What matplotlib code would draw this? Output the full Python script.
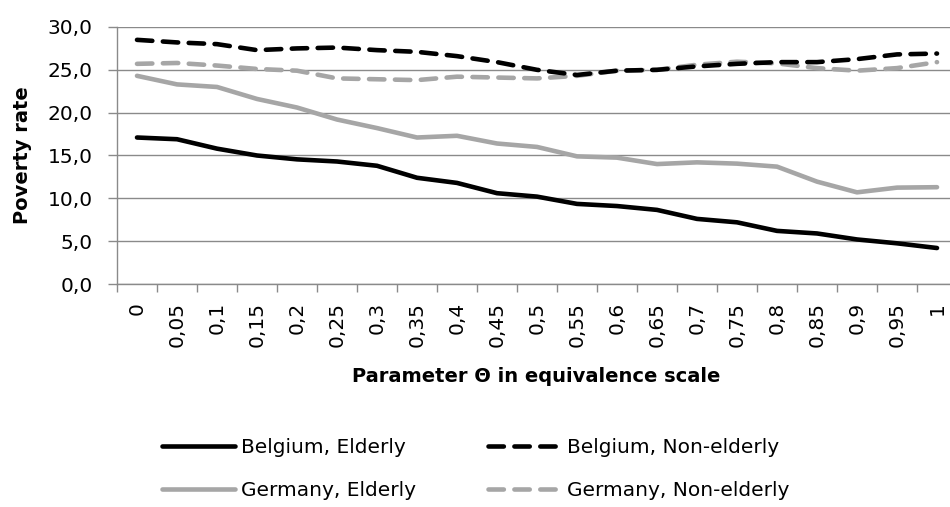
import matplotlib
matplotlib.use("Agg")
import matplotlib.pyplot as plt
import numpy as np

plt.rcParams['font.family'] = ['DejaVu Sans']

theta_labels = ["0", "0,05", "0,1", "0,15", "0,2", "0,25", "0,3", "0,35", "0,4", "0,45", "0,5",
                "0,55", "0,6", "0,65", "0,7", "0,75", "0,8", "0,85", "0,9", "0,95", "1"]

belgium_elderly = [17.1, 16.9, 15.8, 15.0, 14.55, 14.3, 13.8, 12.4, 11.8, 10.6, 10.2,
                   9.35, 9.1, 8.65, 7.6, 7.2, 6.2, 5.9, 5.2, 4.75, 4.2]
belgium_nonelderly = [28.5, 28.2, 28.0, 27.3, 27.5, 27.6, 27.3, 27.1, 26.6, 25.9, 25.0,
                      24.4, 24.9, 25.0, 25.4, 25.7, 25.9, 25.9, 26.25, 26.8, 26.9]
germany_elderly = [24.3, 23.3, 23.0, 21.6, 20.6, 19.2, 18.2, 17.1, 17.3, 16.4, 16.0,
                   14.9, 14.75, 14.0, 14.2, 14.05, 13.7, 11.95, 10.7, 11.25, 11.3]
germany_nonelderly = [25.7, 25.8, 25.5, 25.1, 24.9, 24.0, 23.9, 23.8, 24.2, 24.1, 24.0,
                      24.3, 24.9, 25.0, 25.6, 25.95, 25.75, 25.2, 24.9, 25.2, 25.9]

W, H = 950, 507
fig = plt.figure(figsize=(W / 100, H / 100), dpi=100)
ax = fig.add_axes([117 / W, 1 - 284 / H, 840 / W, (284 - 27) / H])

x = np.arange(len(theta_labels))
grid_col = "#8a8a8a"
gray = "#a6a6a6"
lw = 3.3
dash = (0, (3.35, 2.3))
l_be, = ax.plot(x, belgium_elderly, color="black", lw=lw, solid_capstyle="round", solid_joinstyle="round",
                label="Belgium, Elderly", zorder=3)
l_bn, = ax.plot(x, belgium_nonelderly, color="black", lw=lw, linestyle=dash, dash_capstyle="round",
                label="Belgium, Non-elderly", zorder=3)
l_ge, = ax.plot(x, germany_elderly, color=gray, lw=lw, solid_capstyle="round", solid_joinstyle="round",
                label="Germany, Elderly", zorder=2)
l_gn, = ax.plot(x, germany_nonelderly, color=gray, lw=lw, linestyle=dash, dash_capstyle="round",
                label="Germany, Non-elderly", zorder=2)

fs = 14.5
ax.set_xlim(-0.5, len(theta_labels) - 0.5)
ax.set_ylim(0, 30)
yt = np.arange(0, 30.1, 5)
ax.set_yticks(yt)
ax.set_yticklabels([f"{v:.1f}".replace(".", ",") for v in yt], fontsize=fs)
ax.set_xticks(x)
ax.set_xticklabels(theta_labels, rotation=90, fontsize=fs)
ax.tick_params(axis="x", which="major", length=0, pad=13)
ax.set_xticks(np.arange(-0.5, len(theta_labels), 1), minor=True)
ax.tick_params(axis="x", which="minor", length=6, color=grid_col, width=1)
ax.tick_params(axis="y", length=6.5, color=grid_col, width=1, pad=11)

ax.grid(axis="y", color=grid_col, lw=1)
ax.set_axisbelow(True)
for s in ["top", "right"]:
    ax.spines[s].set_visible(False)
for s in ["left", "bottom"]:
    ax.spines[s].set_color(grid_col)
    ax.spines[s].set_linewidth(1)

fig.text(23 / W, 1 - 155 / H, "Poverty rate", fontsize=14, fontweight="bold",
         rotation=90, ha="center", va="center")
fig.text(536 / W, 1 - 382 / H, "Parameter Θ in equivalence scale", fontsize=14, fontweight="bold",
         ha="center", va="baseline")

leg = fig.legend([l_be, l_ge, l_bn, l_gn],
                 ["Belgium, Elderly", "Germany, Elderly", "Belgium, Non-elderly", "Germany, Non-elderly"],
                 ncol=2, loc="upper left", bbox_to_anchor=(162 / W, 1 - 438 / H),
                 frameon=False, fontsize=fs, handlelength=3.6, handletextpad=0.3,
                 columnspacing=3.6, labelspacing=1.2, borderpad=0, borderaxespad=0)

fig.savefig("out.png", dpi=100)
